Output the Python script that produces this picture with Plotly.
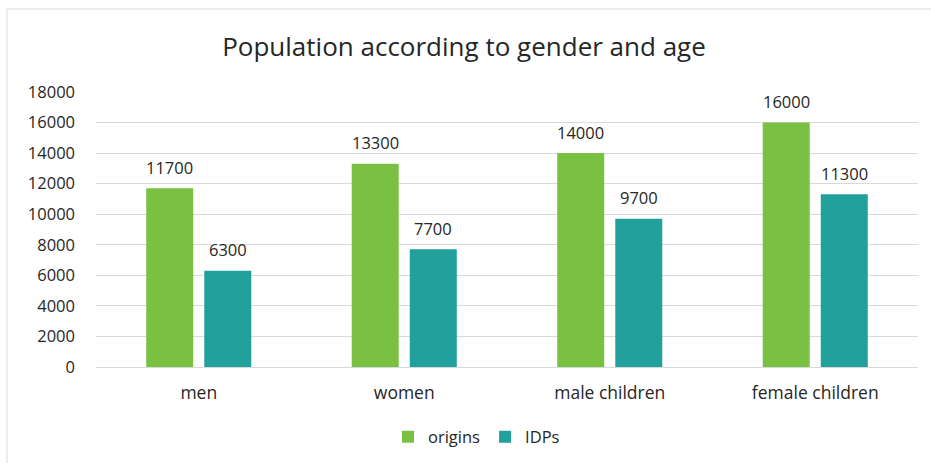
import plotly.graph_objects as go

categories = ["men", "women", "male children", "female children"]
origins = [11700, 13300, 14000, 16000]
idps = [6300, 7700, 9700, 11300]
series_names = ["origins", "IDPs"]
y_ticks = [0, 2000, 4000, 6000, 8000, 10000, 12000, 14000, 16000, 18000]
y_tick_labels = [str(v) for v in y_ticks]

GREEN = "#7AC143"
TEAL = "#22A09C"
DARK = "#262626"
GRID = "#D9D9D9"
FONT = "Open Sans, sans-serif"

BARGAP = 0.435
BARGROUPGAP = 0.19

# plot area in pixels
W, H = 931, 463
L, R, T, B = 96, 13, 92, 96
pw, ph = W - L - R, H - T - B

fig = go.Figure()
fig.add_bar(x=categories, y=origins, name=series_names[0],
            marker=dict(color=GREEN, line=dict(width=0)))
fig.add_bar(x=categories, y=idps, name=series_names[1],
            marker=dict(color=TEAL, line=dict(width=0)))

# value labels above each bar
offset = (1 - BARGAP) / 4
annotations = []
for i, (a, b) in enumerate(zip(origins, idps)):
    for dx, v in ((-offset, a), (offset, b)):
        annotations.append(dict(
            x=i + dx, y=v, xref="x", yref="y", text=str(v),
            showarrow=False, yanchor="middle", yshift=21,
            font=dict(family=FONT, size=16.5, color=DARK)))

# light frame around the chart
shapes = [dict(
    type="rect", xref="paper", yref="paper",
    x0=(7 - L) / pw, x1=(W + 10 - L) / pw,
    y0=(T + ph - (H + 10)) / ph, y1=(T + ph - 9) / ph,
    line=dict(color=GRID, width=1), fillcolor="rgba(0,0,0,0)", layer="below")]

fig.update_layout(
    width=W, height=H,
    margin=dict(l=L, r=R, t=T, b=B, pad=0, autoexpand=False),
    paper_bgcolor="white", plot_bgcolor="white",
    barmode="group", bargap=BARGAP, bargroupgap=BARGROUPGAP,
    title=dict(text="Population according to gender and age",
               x=464 / W, xref="container", xanchor="center",
               y=1 - 47 / H, yref="container", yanchor="middle",
               font=dict(family=FONT, size=26, color=DARK)),
    font=dict(family=FONT, size=16, color=DARK),
    showlegend=True,
    legend=dict(orientation="h", xref="container", yref="container",
                x=388 / W, xanchor="left",
                y=1 - 437 / H, yanchor="middle",
                font=dict(family=FONT, size=16.5, color=DARK),
                itemwidth=30, tracegroupgap=0),
    annotations=annotations,
    shapes=shapes,
)
fig.update_xaxes(showgrid=False, showline=False, ticks="", automargin=False,
                 ticklabelstandoff=13,
                 tickfont=dict(family=FONT, size=17.5, color=DARK))
fig.update_yaxes(range=[0, 18000], tickvals=y_ticks, ticktext=y_tick_labels,
                 showgrid=True, gridcolor=GRID, gridwidth=1, automargin=False,
                 zeroline=True, zerolinecolor=GRID, zerolinewidth=1,
                 showline=False, ticks="", ticklabelstandoff=20,
                 tickfont=dict(family=FONT, size=16.5, color=DARK))

fig.write_html("out.html")
